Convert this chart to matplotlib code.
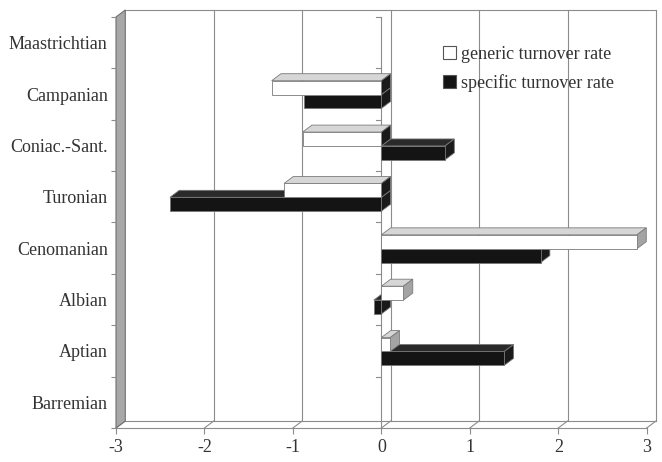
import numpy as np
import matplotlib
matplotlib.use("Agg")
import matplotlib.pyplot as plt
from matplotlib.patches import Polygon, Patch

# ---- data ----
stages = ["Barremian", "Aptian", "Albian", "Cenomanian", "Turonian",
          "Coniac.-Sant.", "Campanian", "Maastrichtian"]
generic_rate = [np.nan, 0.10, 0.25, 2.89, -1.10, -0.89, -1.24, np.nan]
specific_rate = [np.nan, 1.39, -0.085, 1.80, -2.39, 0.72, -0.88, np.nan]
x_ticks = [-3, -2, -1, 0, 1, 2, 3]
series_labels = ["generic turnover rate", "specific turnover rate"]

plt.rcParams['font.family'] = ['Liberation Serif', 'DejaVu Serif']
TXT = '#333333'
FS = 13

W, H = 662, 462
fig = plt.figure(figsize=(W / 100, H / 100), dpi=100)
# front plane: x -3 -> px116, 3 -> px647 ; y front bottom px428, back top px10
ax = fig.add_axes([116 / W, 34 / H, 540 / W, 418 / H])

dx = 9.3 / 88.5          # depth offset in x data units
dy = 7.0 / 51.4          # depth offset in category units
n = len(stages)
ylo, yhi = -0.5, n - 0.5
ax.set_xlim(-3, 3 + dx)
ax.set_ylim(ylo, yhi + dy)
for s in ax.spines.values():
    s.set_visible(False)

grid_c = '#8c8c8c'
lw = 0.8

# left wall
wall = Polygon([(-3, ylo), (-3, yhi), (-3 + dx, yhi + dy), (-3 + dx, ylo + dy)],
               closed=True, facecolor='#a8a8a8', edgecolor='#707070', lw=0.8,
               clip_on=False, zorder=1)
ax.add_patch(wall)

# back plane gridlines / border
for k in x_ticks[1:]:
    ax.plot([k + dx, k + dx], [ylo + dy, yhi + dy], color=grid_c, lw=lw,
            clip_on=False, zorder=0.5)
ax.plot([-3 + dx, 3 + dx], [yhi + dy, yhi + dy], color=grid_c, lw=lw,
        clip_on=False, zorder=0.5)
ax.plot([-3 + dx, 3 + dx], [ylo + dy, ylo + dy], color=grid_c, lw=lw,
        clip_on=False, zorder=0.5)
# floor
ax.plot([-3, 3], [ylo, ylo], color=grid_c, lw=lw, clip_on=False, zorder=0.6)
for k in x_ticks:
    ax.plot([k, k + dx], [ylo, ylo + dy], color=grid_c, lw=lw,
            clip_on=False, zorder=0.6)

# front zero axis with boundary ticks
tick_len = 5 / 88.5
ax.plot([0, 0], [ylo, yhi], color=grid_c, lw=lw, zorder=0.7)
for b in np.arange(ylo, yhi + 0.01, 1.0):
    ax.plot([-tick_len, 0], [b, b], color=grid_c, lw=lw, zorder=0.7)

# bars
h = 0.27
split = -0.01
y = np.arange(n)


def draw_3d(vals, y0s, front, top, side_pos, side_neg, edge, z):
    vals = np.asarray(vals, dtype=float)
    ok = ~np.isnan(vals)
    ax.barh(y0s[ok], vals[ok], height=h, align='edge', color=front,
            edgecolor=edge, linewidth=0.6, zorder=z + 0.2)
    for v, y0 in zip(vals[ok], y0s[ok]):
        lo, hi = min(0, v), max(0, v)
        tp = Polygon([(lo, y0 + h), (hi, y0 + h), (hi + dx, y0 + h + dy),
                      (lo + dx, y0 + h + dy)], closed=True, facecolor=top,
                     edgecolor=edge, lw=0.6, zorder=z)
        sc = side_pos if v > 0 else side_neg
        sd = Polygon([(hi, y0), (hi, y0 + h), (hi + dx, y0 + h + dy),
                      (hi + dx, y0 + dy)], closed=True, facecolor=sc,
                     edgecolor=edge, lw=0.6, zorder=z)
        ax.add_patch(tp)
        ax.add_patch(sd)


draw_3d(specific_rate, y + split - h, '#141414', '#2a2a2a', '#1a1a1a',
        '#1a1a1a', '#777777', 3)
draw_3d(generic_rate, y + split, 'white', '#d6d6d6', '#a4a4a4',
        '#1a1a1a', '#7a7a7a', 5)

# y axis: labels at centers, ticks at boundaries
ax.set_yticks(y)
ax.set_yticklabels(stages, color=TXT, fontsize=FS)
ax.tick_params(axis='y', which='major', length=0, pad=6)
ax.set_yticks(np.arange(ylo, yhi + 0.01, 1.0), minor=True)
ax.tick_params(axis='y', which='minor', length=3.5, width=0.8, color=grid_c,
               direction='out')

# x axis
ax.set_xticks(x_ticks)
ax.set_xticklabels([str(t) for t in x_ticks], color=TXT, fontsize=FS)
ax.tick_params(axis='x', length=4, width=0.8, color=grid_c, pad=4,
               direction='out')

handles = [Patch(facecolor='white', edgecolor='#555555', lw=0.8),
           Patch(facecolor='#141414', edgecolor='#555555', lw=0.8)]
fig.legend(handles, series_labels, loc='upper left',
           bbox_to_anchor=(443 / W, 1 - 46 / H), frameon=False,
           fontsize=FS, handlelength=0.7, handleheight=0.7,
           handletextpad=0.3, labelspacing=0.62, labelcolor=TXT,
           borderaxespad=0, borderpad=0)

fig.savefig('out.png', dpi=100)
